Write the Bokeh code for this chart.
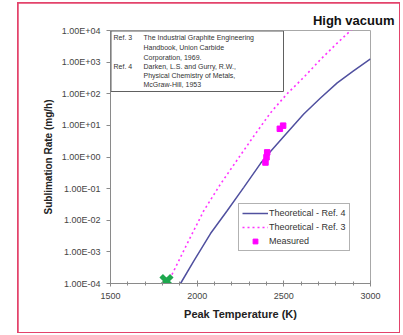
from bokeh.plotting import figure
from bokeh.models import (FixedTicker, Legend, LegendItem, Label, BoxAnnotation, Range1d)
from bokeh.embed import file_html
from bokeh.resources import INLINE

# Theoretical sublimation rate of graphite, Darken & Gurry (Ref. 4)
ref4_temp = [1904, 1981, 2077, 2173, 2269, 2365, 2423, 2520, 2615, 2710, 2808, 2900, 3000]
ref4_rate = [1.0e-4, 5.2e-4, 3.8e-3, 2.0e-2, 0.11, 0.62, 1.5, 6.0, 23, 72, 220, 520, 1260]

# Theoretical sublimation rate, Union Carbide handbook (Ref. 3)
ref3_temp = [1829, 1942, 2038, 2135, 2231, 2327, 2423, 2519, 2615, 2711, 2808, 2894]
ref3_rate = [1.0e-4, 1.8e-3, 2.0e-2, 0.14, 0.81, 4.6, 25, 100, 330, 1200, 4000, 11000]

# Measured rates
meas_temp = [2394, 2400, 2404, 2477, 2496]
meas_rate = [0.67, 0.98, 1.4, 7.8, 9.8]

# Onset marker
onset_temp = [1823]
onset_rate = [1.2e-4]

x_ticks = [1500, 2000, 2500, 3000]
x_minor = [1600, 1700, 1800, 1900, 2100, 2200, 2300, 2400, 2600, 2700, 2800, 2900]
y_ticks = [1e-4, 1e-3, 1e-2, 1e-1, 1e0, 1e1, 1e2, 1e3, 1e4]
y_tick_labels = ["1.00E-04", "1.00E-03", "1.00E-02", "1.00E-01", "1.00E+00",
                 "1.00E+01", "1.00E+02", "1.00E+03", "1.00E+04"]

refs_left = ["Ref. 3", "", "", "Ref. 4", "", ""]
refs_text = ["The Industrial Graphite Engineering", "Handbook, Union Carbide",
             "Corporation, 1969.", "Darken, L.S. and Gurry, R.W.,",
             "Physical Chemistry of Metals,", "McGraw-Hill, 1953"]

FONT = "Liberation Sans"
# page box of the chart (inside the red frame) and the plot frame, in page pixels
BOX_L, BOX_T, BOX_R, BOX_B = 18, 3, 399, 332
FL, FR, FT, FB = 110, 370, 30, 283
W, H = BOX_R - BOX_L, BOX_B - BOX_T

p = figure(width=W, height=H, output_backend="svg", toolbar_location=None,
           y_axis_type="log", x_range=Range1d(1500, 3000), y_range=Range1d(1e-4, 1e4),
           min_border_left=FL - BOX_L, min_border_right=BOX_R - FR,
           min_border_top=FT - BOX_T, min_border_bottom=BOX_B - FB,
           margin=(BOX_T, 403 - BOX_R, 335 - BOX_B, BOX_L),
           styles={"outline": "2px solid #e3436b", "outline-offset": "-1px"})
p.background_fill_color = "white"
p.border_fill_color = "white"
p.outline_line_color = "#a8a8a8"
p.xgrid.visible = False
p.ygrid.visible = False

# heading
p.title.text = "High vacuum"
p.title.align = "right"
p.title.offset = -24
p.title.standoff = 6
p.title.text_font = FONT
p.title.text_font_size = "13px"
p.title.text_font_style = "bold"
p.title.text_color = "#111111"

# axes
p.xaxis.ticker = FixedTicker(ticks=x_ticks, minor_ticks=x_minor)
p.yaxis.ticker = FixedTicker(ticks=y_ticks, minor_ticks=[])
p.yaxis.major_label_overrides = {t: l for t, l in zip(y_ticks, y_tick_labels)}
for ax in (p.xaxis, p.yaxis):
    ax.axis_line_color = "#8a8a8a"
    ax.major_tick_line_color = "#8a8a8a"
    ax.minor_tick_line_color = "#8a8a8a"
    ax.major_label_text_font = FONT
    ax.major_label_text_font_size = "9px"
    ax.major_label_text_color = "#444444"
    ax.axis_label_text_font = FONT
    ax.axis_label_text_font_style = "bold"
    ax.axis_label_text_color = "#222222"
p.xaxis.major_tick_in = 3
p.xaxis.major_tick_out = 3
p.xaxis.minor_tick_in = 2
p.xaxis.minor_tick_out = 2
p.xaxis.major_label_standoff = 6
p.xaxis.axis_label = "Peak Temperature (K)"
p.xaxis.axis_label_text_font_size = "11px"
p.xaxis.axis_label_standoff = 6
p.yaxis.major_tick_in = 0
p.yaxis.major_tick_out = 4
p.yaxis.major_label_standoff = 6
p.yaxis.axis_label = "Sublimation Rate (mg/h)"
p.yaxis.axis_label_text_font_size = "10px"
p.yaxis.axis_label_standoff = 5

# curves and points
r4 = p.line(ref4_temp, ref4_rate, line_color="#50509f", line_width=1.5)
r3 = p.line(ref3_temp, ref3_rate, line_color="#ff33ff", line_width=1.6, line_dash="2 3")
rm = p.scatter(meas_temp, meas_rate, marker="square", size=5.5,
               fill_color="#ff00ff", line_color="#ff00ff")
p.scatter(onset_temp, onset_rate, marker="x", size=15, line_width=5,
          line_color="#1ea84e")


def sx(x):
    return x - FL


def sy(y):
    return FB - y


legend = Legend(items=[LegendItem(label="Theoretical - Ref. 4", renderers=[r4]),
                       LegendItem(label="Theoretical - Ref. 3", renderers=[r3]),
                       LegendItem(label="Measured", renderers=[rm])],
                location=(sx(238), sy(251)), orientation="vertical",
                label_text_font=FONT, label_text_font_size="9px",
                label_text_color="#333333", glyph_width=26, glyph_height=12,
                label_height=12, label_standoff=1, spacing=2, padding=3, margin=0,
                border_line_color="#666666", border_line_width=1,
                background_fill_color="white", background_fill_alpha=1)
p.add_layout(legend)

# reference box
p.add_layout(BoxAnnotation(left=sx(110.5), right=sx(283), top=sy(30.5), bottom=sy(91),
                           left_units="screen", right_units="screen",
                           top_units="screen", bottom_units="screen",
                           fill_color="white", fill_alpha=1,
                           line_color="#606060", line_alpha=1, line_width=1))
row_y = [37, 47, 57, 66, 75, 84]
for lab, txt, yy in zip(refs_left, refs_text, row_y):
    if lab:
        p.add_layout(Label(x=sx(113), y=sy(yy), x_units="screen", y_units="screen",
                           text=lab, text_font=FONT, text_font_size="7px",
                           text_color="#333333", text_baseline="middle"))
    p.add_layout(Label(x=sx(143), y=sy(yy), x_units="screen", y_units="screen",
                       text=txt, text_font=FONT, text_font_size="7px",
                       text_color="#333333", text_baseline="middle"))

open("out.html", "w").write(file_html(p, INLINE))
